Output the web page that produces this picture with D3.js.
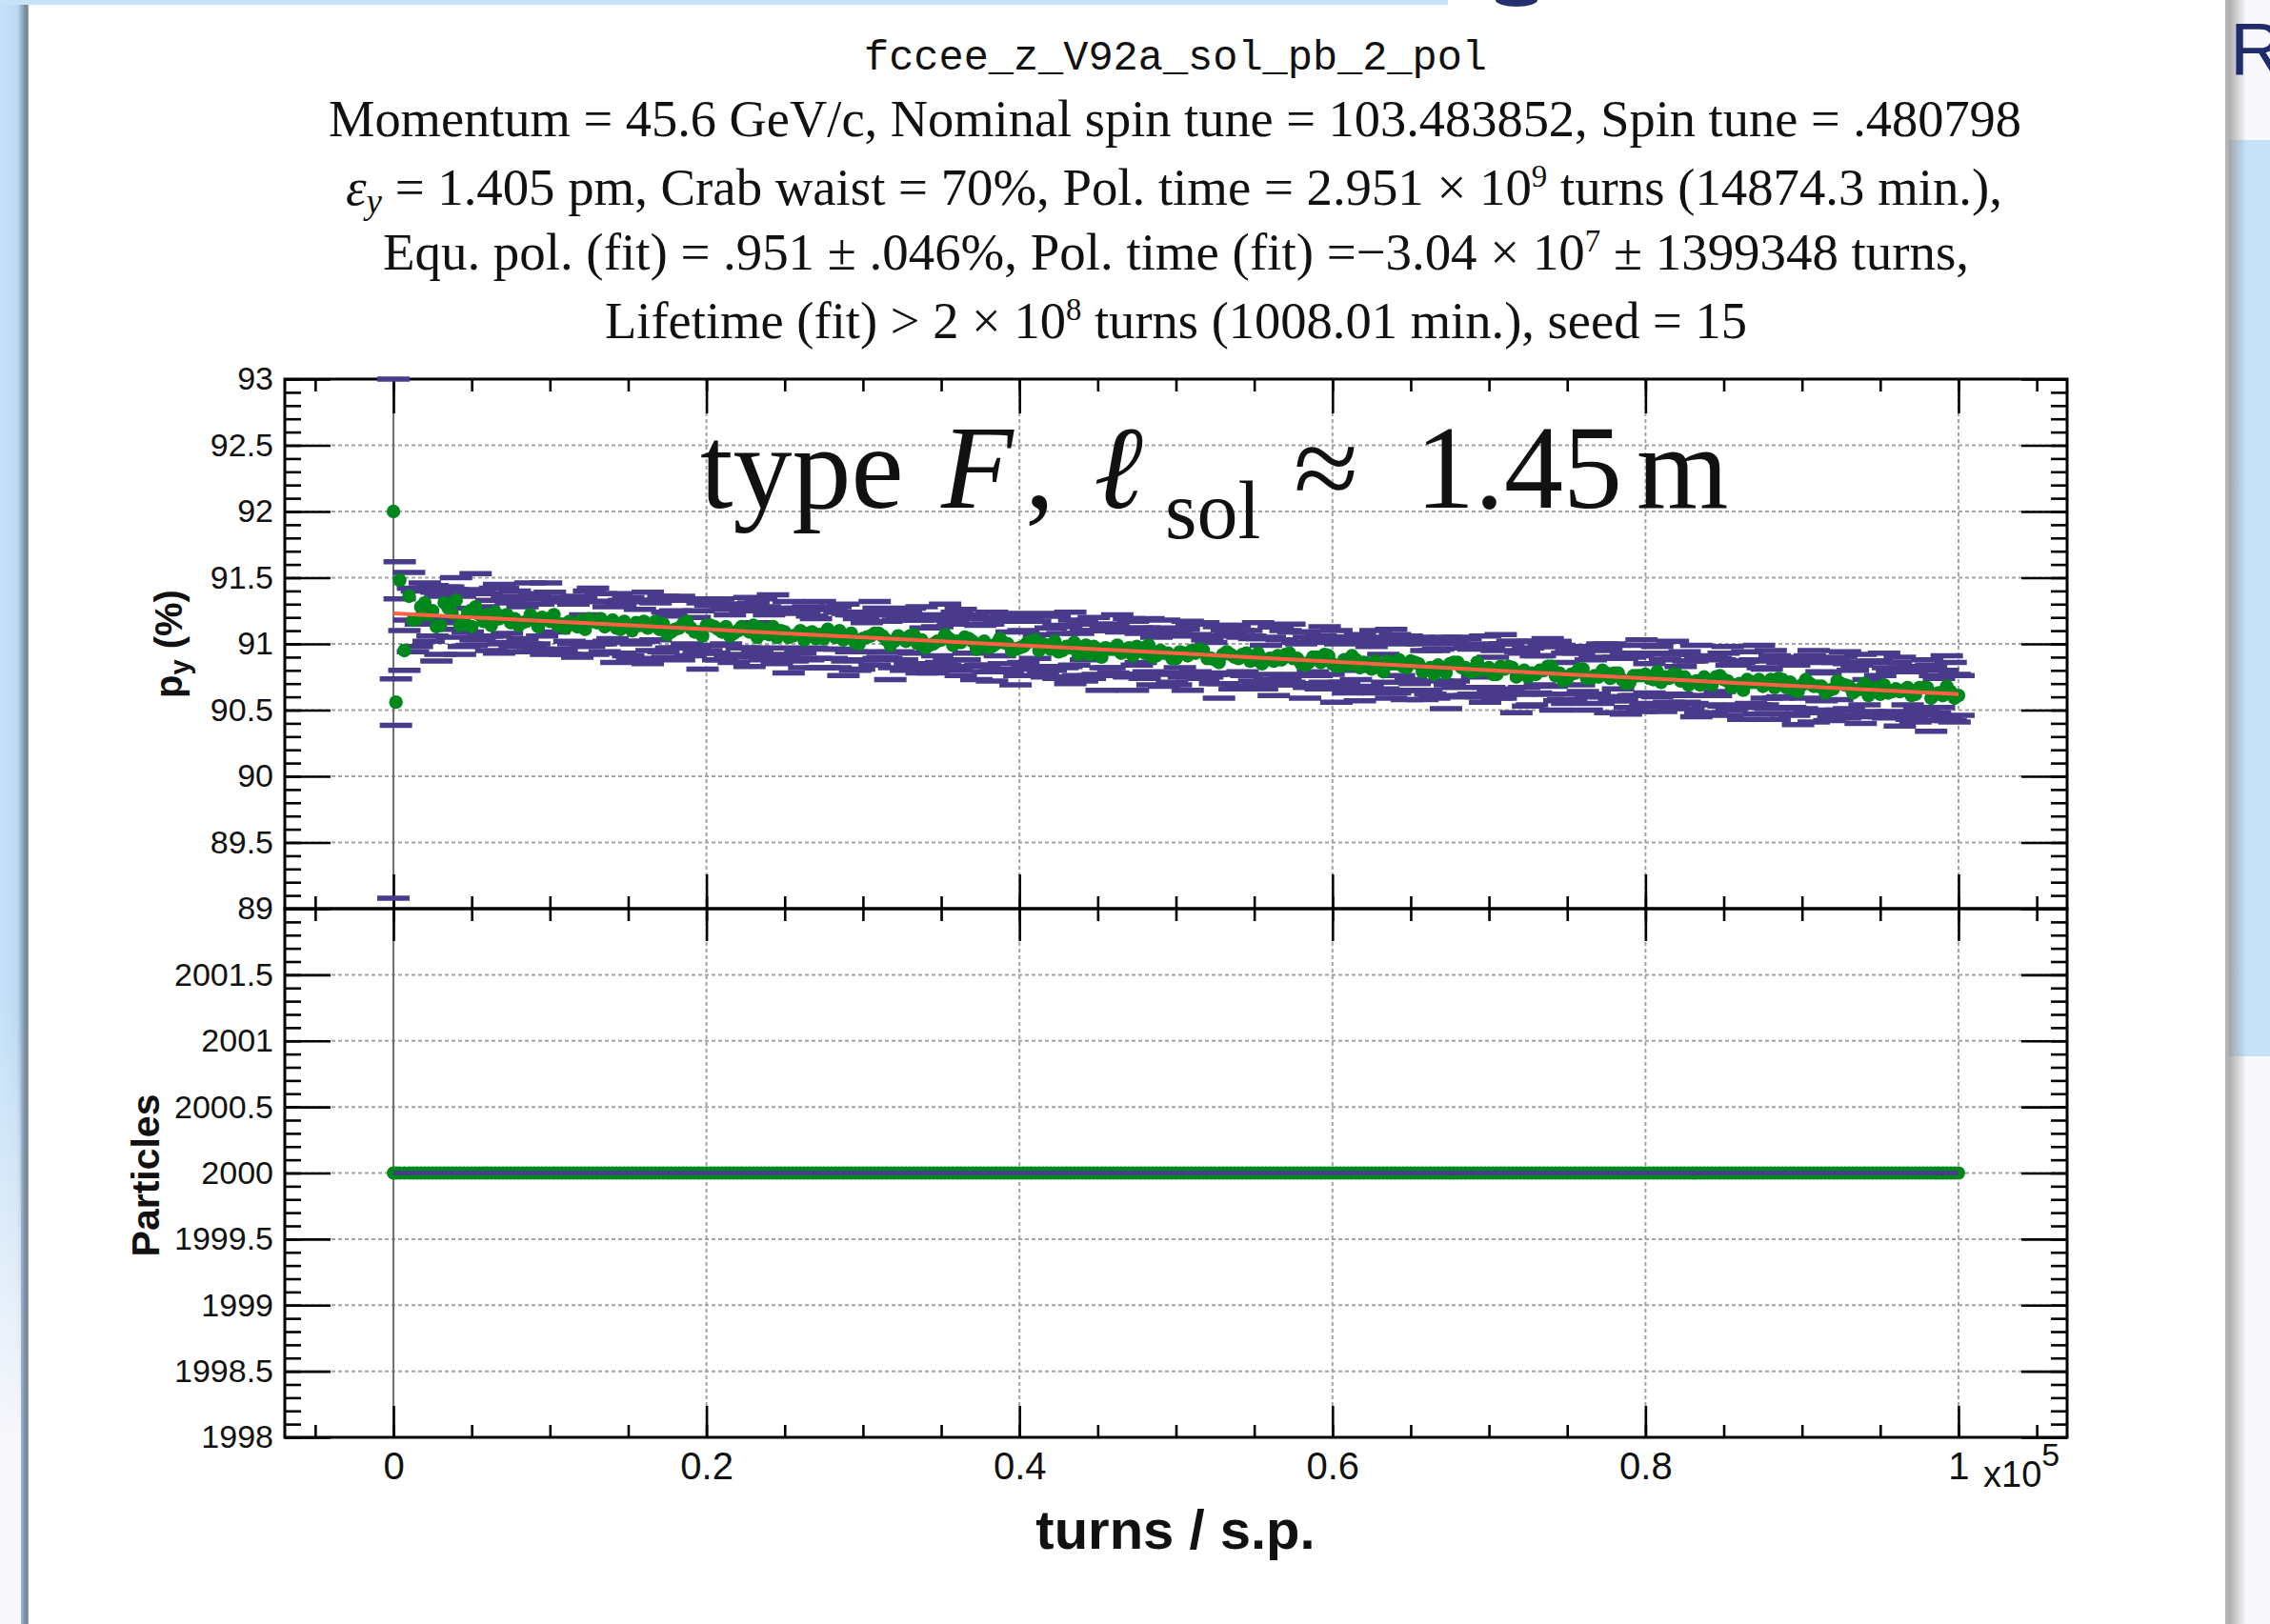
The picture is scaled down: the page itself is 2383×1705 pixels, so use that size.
<!DOCTYPE html>
<html>
<head>
<meta charset="utf-8">
<script src="https://cdn.jsdelivr.net/npm/d3@7"></script>
<style>
body { margin: 0; background: #fff; }
svg { display: block; }
</style>
</head>
<body>
<svg id="chart" width="2383" height="1705"></svg>
<script>
// ---- data ----
// polarisation samples: set A every 500 turns from 1000, set B every 500 turns from 1250
var startA = 1000, startB = 1250, sampleStep = 500;
var polA = [
  91.36, 91.19, 91.31, 91.25, 91.14, 91.27, 91.33, 91.18, 91.13, 91.22,
  91.22, 91.24, 91.21, 91.16, 91.14, 91.17, 91.19, 91.20, 91.17, 91.14,
  91.12, 91.15, 91.18, 91.19, 91.16, 91.13, 91.18, 91.11, 91.13, 91.16,
  91.17, 91.14, 91.11, 91.07, 91.11, 91.15, 91.12, 91.09, 91.14, 91.13,
  91.09, 91.06, 91.10, 91.11, 91.14, 91.12, 91.07, 91.05, 91.09, 91.06,
  91.10, 91.08, 91.04, 91.04, 91.08, 91.10, 91.05, 91.01, 91.04, 91.06,
  91.08, 91.03, 91.02, 91.04, 91.06, 91.00, 90.97, 91.00, 91.03, 91.04,
  91.02, 91.05, 91.02, 90.99, 90.97, 91.00, 91.01, 90.95, 90.97, 91.01,
  91.03, 91.00, 90.96, 90.94, 90.98, 91.01, 90.94, 90.92, 90.96, 90.97,
  90.96, 90.93, 90.97, 90.98, 90.93, 90.90, 90.95, 90.93, 90.89, 90.93,
  90.95, 90.96, 90.89, 90.88, 90.92, 90.92, 90.89, 90.93, 90.88, 90.85,
  90.89, 90.91, 90.92, 90.89, 90.85, 90.86, 90.90, 90.92, 90.85, 90.83,
  90.84, 90.88, 90.86, 90.81, 90.83, 90.87, 90.85, 90.83, 90.87, 90.85,
  90.80, 90.77, 90.82, 90.85, 90.86, 90.82, 90.79, 90.80, 90.82, 90.77,
  90.81, 90.82, 90.78, 90.75, 90.77, 90.80, 90.83, 90.78, 90.74, 90.78,
  90.81, 90.74, 90.75, 90.78, 90.78, 90.73, 90.71, 90.76, 90.77, 90.73,
  90.71, 90.74, 90.77, 90.75, 90.71, 90.69, 90.72, 90.75, 90.73, 90.67,
  90.70, 90.73, 90.71, 90.68, 90.73, 90.74, 90.67, 90.65, 90.69, 90.70,
  90.68, 90.63, 90.66, 90.70, 90.68, 90.65, 90.70, 90.66, 90.62, 90.63,
  90.66, 90.65, 90.61, 90.67, 90.67, 90.62, 90.61, 90.64, 90.61
];
var errA = [
  .18, .21, .15, .19, .22, .16, .17, .20, .14, .19,
  .16, .18, .21, .15, .20, .17, .19, .14, .22, .18,
  .20, .15, .17, .21, .16, .19, .14, .18, .22, .16,
  .15, .19, .22, .17, .14, .18, .21, .16, .19, .20,
  .21, .16, .18, .14, .17, .22, .15, .20, .18, .19,
  .17, .20, .15, .22, .19, .14, .18, .21, .16, .18,
  .19, .14, .20, .16, .21, .18, .15, .22, .17, .16,
  .22, .17, .19, .15, .18, .20, .16, .14, .21, .19,
  .14, .21, .16, .20, .15, .17, .22, .18, .19, .15,
  .18, .16, .22, .14, .19, .21, .17, .15, .20, .18,
  .20, .19, .14, .18, .22, .15, .21, .17, .16, .19,
  .16, .22, .18, .20, .15, .19, .14, .21, .18, .17,
  .21, .15, .19, .17, .20, .16, .22, .18, .14, .20,
  .15, .18, .21, .16, .19, .22, .17, .20, .15, .18,
  .19, .20, .16, .22, .14, .18, .15, .21, .19, .16,
  .17, .14, .20, .18, .21, .16, .19, .15, .22, .20,
  .22, .18, .15, .19, .16, .21, .18, .14, .20, .17,
  .16, .21, .17, .14, .22, .15, .20, .19, .18, .21,
  .18, .15, .22, .20, .17, .19, .16, .21, .14, .19,
  .20, .17, .18, .16, .21, .14, .19, .22, .15
];
var polB = [
  91.18, 91.28, 91.22, 91.13, 91.31, 91.23, 91.14, 91.24, 91.28, 91.17,
  91.14, 91.19, 91.22, 91.19, 91.16, 91.22, 91.13, 91.19, 91.22, 91.15,
  91.17, 91.13, 91.11, 91.17, 91.19, 91.15, 91.12, 91.17, 91.10, 91.14,
  91.12, 91.17, 91.15, 91.09, 91.12, 91.17, 91.09, 91.06, 91.14, 91.11,
  91.13, 91.08, 91.13, 91.09, 91.05, 91.08, 91.13, 91.10, 91.05, 91.07,
  91.03, 91.09, 91.07, 91.11, 91.05, 91.03, 91.08, 91.00, 91.05, 91.08,
  91.06, 90.99, 91.06, 91.02, 91.07, 91.03, 90.99, 91.02, 91.07, 90.99,
  91.01, 91.04, 90.96, 91.02, 90.98, 91.04, 91.00, 90.96, 90.98, 91.02,
  90.95, 90.99, 91.02, 90.95, 90.97, 90.92, 90.99, 90.98, 90.90, 90.96,
  90.99, 90.94, 90.91, 90.97, 90.99, 90.91, 90.93, 90.89, 90.94, 90.91,
  90.93, 90.95, 90.89, 90.86, 90.94, 90.90, 90.92, 90.87, 90.93, 90.88,
  90.87, 90.88, 90.93, 90.89, 90.84, 90.90, 90.86, 90.91, 90.83, 90.88,
  90.91, 90.82, 90.85, 90.87, 90.79, 90.85, 90.88, 90.82, 90.86, 90.79,
  90.82, 90.84, 90.78, 90.86, 90.82, 90.79, 90.86, 90.81, 90.77, 90.83,
  90.83, 90.75, 90.80, 90.78, 90.80, 90.83, 90.76, 90.72, 90.77, 90.81,
  90.74, 90.76, 90.80, 90.74, 90.78, 90.70, 90.76, 90.76, 90.74, 90.79,
  90.75, 90.77, 90.72, 90.69, 90.72, 90.75, 90.69, 90.76, 90.72, 90.69,
  90.65, 90.71, 90.73, 90.70, 90.67, 90.73, 90.71, 90.64, 90.73, 90.68,
  90.68, 90.65, 90.72, 90.69, 90.63, 90.66, 90.61, 90.67, 90.69, 90.64,
  90.64, 90.67, 90.62, 90.67, 90.59, 90.63, 90.68, 90.59
];
var errB = [
  .24, .13, .20, .26, .12, .18, .22, .15, .25, .11,
  .19, .26, .14, .21, .12, .24, .17, .27, .13, .20,
  .15, .23, .11, .25, .19, .13, .26, .16, .22, .12,
  .27, .14, .21, .12, .24, .17, .11, .25, .15, .23,
  .13, .22, .16, .26, .11, .20, .24, .13, .27, .18,
  .21, .12, .25, .15, .23, .27, .14, .19, .11, .24,
  .16, .26, .12, .22, .14, .25, .19, .11, .23, .17,
  .25, .11, .23, .18, .26, .13, .21, .27, .12, .20,
  .12, .24, .19, .13, .27, .16, .11, .22, .25, .14,
  .23, .17, .26, .11, .20, .14, .25, .18, .12, .26,
  .14, .21, .12, .27, .16, .24, .13, .19, .23, .11,
  .26, .15, .22, .12, .25, .11, .20, .14, .27, .17,
  .11, .25, .17, .23, .13, .26, .12, .24, .16, .21,
  .20, .12, .27, .14, .22, .18, .11, .25, .13, .24,
  .17, .27, .13, .24, .11, .21, .26, .14, .20, .12,
  .24, .14, .20, .26, .12, .23, .15, .27, .11, .19,
  .13, .25, .11, .18, .27, .14, .22, .12, .26, .16,
  .22, .16, .26, .11, .24, .13, .19, .25, .14, .27,
  .11, .23, .14, .25, .17, .26, .12, .20, .24, .15,
  .26, .13, .21, .16, .25, .11, .23, .18
];
// first few samples before the regular grid
var earlyTurns = [0, 160, 400, 700];
var earlyPol = [92.0, 90.56, 91.48, 90.95];
var earlyErr = [2.92, 0.175, 0.14, 0.15];

// fitted curve
var fitTurns = [0, 25000, 50000, 75000, 100000];
var fitPol = [91.23, 91.08, 90.93, 90.77, 90.62];

// particle count: every sample reads 2000
var particleLevel = 2000;

// axis ticks
var xMajor = [0, 20000, 40000, 60000, 80000, 100000];
var polTicks = [89, 89.5, 90, 90.5, 91, 91.5, 92, 92.5, 93];
var partTicks = [1998, 1998.5, 1999, 1999.5, 2000, 2000.5, 2001, 2001.5, 2002];

// ---- layout ----
var W = 2383, H = 1705;
var left = 299, right = 2170, top1 = 398, mid = 954, bot = 1509;
var green = "#00881c", purple = "#4a3a8c", fitColor = "#ff6242", gridColor = "#a3a3a3";

var svg = d3.select("#chart");
var defs = svg.append("defs");

// ---- page decoration (slide edges) ----
var lg = defs.append("linearGradient").attr("id", "leftEdge");
lg.append("stop").attr("offset", "0").attr("stop-color", "#c3e2f9");
lg.append("stop").attr("offset", "0.6").attr("stop-color", "#bddaf2");
lg.append("stop").attr("offset", "0.82").attr("stop-color", "#8aa0b8");
lg.append("stop").attr("offset", "0.93").attr("stop-color", "#6f8398");
lg.append("stop").attr("offset", "1").attr("stop-color", "#a8a8a8");
svg.append("rect").attr("x", 0).attr("y", 0).attr("width", 30).attr("height", H).attr("fill", "url(#leftEdge)");
var lf = defs.append("linearGradient").attr("id", "leftFade").attr("x1", 0).attr("x2", 0).attr("y1", 0).attr("y2", 1);
lf.append("stop").attr("offset", "0").attr("stop-color", "#f7f7fc").attr("stop-opacity", 0);
lf.append("stop").attr("offset", "0.7").attr("stop-color", "#f7f7fc").attr("stop-opacity", 1);
lf.append("stop").attr("offset", "1").attr("stop-color", "#f7f7fc").attr("stop-opacity", 1);
svg.append("rect").attr("x", 0).attr("y", 1050).attr("width", 22).attr("height", 655).attr("fill", "url(#leftFade)");
svg.append("rect").attr("x", 0).attr("y", 0).attr("width", 1520).attr("height", 5).attr("fill", "#c6e3f8");
svg.append("ellipse").attr("cx", 1592).attr("cy", 0).attr("rx", 22).attr("ry", 7).attr("fill", "#22306e");

svg.append("rect").attr("x", 2337).attr("y", 0).attr("width", 46).attr("height", H).attr("fill", "#f8f8fc");
svg.append("rect").attr("x", 2340).attr("y", 147).attr("width", 43).attr("height", 962).attr("fill", "#c6e2f8");
var rg = defs.append("linearGradient").attr("id", "rightShade");
rg.append("stop").attr("offset", "0").attr("stop-color", "#8c8c8c").attr("stop-opacity", 0.7);
rg.append("stop").attr("offset", "1").attr("stop-color", "#8c8c8c").attr("stop-opacity", 0);
svg.append("rect").attr("x", 2340).attr("y", 0).attr("width", 18).attr("height", H).attr("fill", "url(#rightShade)");
svg.append("rect").attr("x", 2336).attr("y", 0).attr("width", 4).attr("height", H).attr("fill", "#b4b4b4");
// slide letter partly outside the window, as in the screenshot
svg.append("text").attr("x", 2341).attr("y", 78).attr("font-family", "Liberation Sans, Arial, sans-serif")
  .attr("font-size", 78).attr("fill", "#1f2b6b").text("R");

// ---- scales ----
var x = d3.scaleLinear().domain([-6940, 106940]).range([left, right]);
var yPol = d3.scaleLinear().domain([89, 93]).range([mid, top1]);
var yPart = d3.scaleLinear().domain([1998, 2002]).range([bot, mid]);

// ---- grid ----
function grid(yScale, yVals, y0, y1) {
  var g = svg.append("g");
  g.selectAll(".hg").data(yVals.slice(1, -1)).enter().append("line")
    .attr("x1", left).attr("x2", right)
    .attr("y1", function(d) { return yScale(d); }).attr("y2", function(d) { return yScale(d); })
    .attr("stroke", gridColor).attr("stroke-width", 2).attr("stroke-dasharray", "4,3");
  g.selectAll(".vg").data(xMajor.slice(1)).enter().append("line")
    .attr("x1", function(d) { return x(d); }).attr("x2", function(d) { return x(d); })
    .attr("y1", y0).attr("y2", y1)
    .attr("stroke", gridColor).attr("stroke-width", 2).attr("stroke-dasharray", "4,3");
  g.append("line").attr("x1", x(0)).attr("x2", x(0)).attr("y1", y0).attr("y2", y1)
    .attr("stroke", "#707070").attr("stroke-width", 2);
}
grid(yPol, polTicks, top1, mid);
grid(yPart, partTicks, mid, bot);

// ---- axes ----
var xMinor = d3.range(-5000, 105001, 5000);
var polMinor = d3.range(89, 93.001, 0.1);
var partMinor = d3.range(1998, 2002.001, 0.1);

function axis(gen, tx, ty, vals, size, fmt, pad) {
  gen.tickValues(vals).tickSizeInner(size).tickSizeOuter(0).tickPadding(pad || 10)
    .tickFormat(fmt || function() { return ""; });
  var g = svg.append("g").attr("transform", "translate(" + tx + "," + ty + ")").call(gen);
  g.select(".domain").remove();
  g.selectAll(".tick line").attr("stroke", "#000").attr("stroke-width", 2.6);
  g.selectAll(".tick text").attr("fill", "#111").attr("font-family", "Liberation Sans, Arial, sans-serif");
  return g;
}

// top panel
axis(d3.axisLeft(yPol), left, 0, polMinor, -17);
axis(d3.axisLeft(yPol), left, 0, polTicks, -48, function(d) { return String(d); }, 12)
  .selectAll("text").attr("font-size", 34);
axis(d3.axisRight(yPol), right, 0, polMinor, -17);
axis(d3.axisRight(yPol), right, 0, polTicks, -48);
axis(d3.axisTop(x), 0, top1, xMinor, -13);
axis(d3.axisTop(x), 0, top1, xMajor, -36);
axis(d3.axisBottom(x), 0, mid, xMinor, -13);
axis(d3.axisBottom(x), 0, mid, xMajor, -36);
// bottom panel
axis(d3.axisLeft(yPart), left, 0, partMinor, -17);
axis(d3.axisLeft(yPart), left, 0, partTicks, -48, function(d) { return d === 2002 ? "" : String(d); }, 12)
  .selectAll("text").attr("font-size", 34);
axis(d3.axisRight(yPart), right, 0, partMinor, -17);
axis(d3.axisRight(yPart), right, 0, partTicks, -48);
axis(d3.axisTop(x), 0, mid, xMinor, -13);
axis(d3.axisTop(x), 0, mid, xMajor, -34);
axis(d3.axisBottom(x), 0, bot, xMinor, -13);
axis(d3.axisBottom(x), 0, bot, xMajor, -33, function(d) { return String(d / 1e5); }, 16)
  .selectAll("text").attr("font-size", 40);

// frames
[[top1, mid], [mid, bot]].forEach(function(p) {
  svg.append("rect").attr("x", left).attr("y", p[0]).attr("width", right - left).attr("height", p[1] - p[0])
    .attr("fill", "none").attr("stroke", "#000").attr("stroke-width", 3);
});

// ---- data ----
var points = earlyTurns.map(function(t, i) { return { t: t, p: earlyPol[i], e: earlyErr[i] }; })
  .concat(polA.map(function(p, i) { return { t: startA + i * sampleStep, p: p, e: errA[i] }; }))
  .concat(polB.map(function(p, i) { return { t: startB + i * sampleStep, p: p, e: errB[i] }; }));

var capHalf = 17;
var caps = [];
points.forEach(function(d) {
  caps.push({ t: d.t, v: Math.min(d.p + d.e, 93) });
  caps.push({ t: d.t, v: Math.max(d.p - d.e, 89) });
});
var pg = svg.append("g");
pg.selectAll("line.cap").data(caps).enter().append("line").attr("class", "cap")
  .attr("x1", function(d) { return x(d.t) - capHalf; }).attr("x2", function(d) { return x(d.t) + capHalf; })
  .attr("y1", function(d) { return yPol(d.v); }).attr("y2", function(d) { return yPol(d.v); })
  .attr("stroke", purple).attr("stroke-width", 5.5);
pg.selectAll("circle").data(points).enter().append("circle")
  .attr("cx", function(d) { return x(d.t); }).attr("cy", function(d) { return yPol(d.p); })
  .attr("r", 7.2).attr("fill", green);

var fitLine = d3.line().x(function(d, i) { return x(fitTurns[i]); }).y(function(d) { return yPol(d); });
svg.append("path").attr("d", fitLine(fitPol)).attr("fill", "none").attr("stroke", fitColor).attr("stroke-width", 4);

// particles panel
var partTurns = points.map(function(d) { return d.t; }).filter(function(t) { return t <= 100000; });
svg.append("g").selectAll("circle").data(partTurns).enter().append("circle")
  .attr("cx", function(d) { return x(d); }).attr("cy", yPart(particleLevel))
  .attr("r", 7).attr("fill", green);
svg.append("line").attr("x1", x(0)).attr("x2", x(d3.max(partTurns)))
  .attr("y1", yPart(particleLevel)).attr("y2", yPart(particleLevel))
  .attr("stroke", purple).attr("stroke-width", 4.5);

// ---- texts ----
var serif = "Liberation Serif, Times New Roman, serif";
var sans = "Liberation Sans, Arial, Helvetica, sans-serif";

svg.append("text").attr("x", 1234).attr("y", 73).attr("text-anchor", "middle")
  .attr("font-family", "Liberation Mono, DejaVu Sans Mono, monospace").attr("font-size", 44)
  .attr("textLength", 654).attr("lengthAdjust", "spacingAndGlyphs").attr("fill", "#111")
  .text("fccee_z_V92a_sol_pb_2_pol");

function titleLine(y, x0, len, parts) {
  var t = svg.append("text").attr("x", x0).attr("y", y).attr("font-family", serif).attr("font-size", 55)
    .attr("fill", "#111").attr("textLength", len).attr("lengthAdjust", "spacingAndGlyphs");
  parts.forEach(function(p) {
    var s = t.append("tspan").text(p.s);
    if (p.it) s.attr("font-style", "italic");
    if (p.fs) s.attr("font-size", p.fs);
    if (p.dy) s.attr("dy", p.dy);
  });
}
titleLine(143, 345, 1777, [{ s: "Momentum = 45.6 GeV/c, Nominal spin tune = 103.483852, Spin tune = .480798" }]);
titleLine(215, 363, 1739, [
  { s: "ε", it: true }, { s: "y", it: true, fs: 37, dy: 9 },
  { s: " = 1.405 pm, Crab waist = 70%, Pol. time = 2.951 × 10", dy: -9 },
  { s: "9", fs: 33, dy: -19 }, { s: " turns (14874.3 min.),", dy: 19 }
]);
titleLine(283, 402, 1665, [
  { s: "Equ. pol. (fit) = .951 ± .046%, Pol. time (fit) =−3.04 × 10" },
  { s: "7", fs: 33, dy: -19 }, { s: " ± 1399348 turns,", dy: 19 }
]);
titleLine(355, 635, 1199, [
  { s: "Lifetime (fit) > 2 × 10" }, { s: "8", fs: 33, dy: -19 },
  { s: " turns (1008.01 min.), seed = 15", dy: 19 }
]);

// in-plot label
var big = svg.append("text").attr("y", 533).attr("font-family", serif).attr("font-size", 124).attr("fill", "#111");
big.append("tspan").attr("x", 735).text("type");
big.append("tspan").attr("x", 988).attr("font-style", "italic").text("F");
big.append("tspan").attr("x", 1076).text(",");
big.append("tspan").attr("x", 1148).attr("font-style", "italic").text("ℓ");
big.append("tspan").attr("x", 1223).attr("dy", 32).attr("font-size", 86).text("sol");
big.append("tspan").attr("x", 1358).attr("dy", -32).text("≈");
big.append("tspan").attr("x", 1486).text("1.45");
big.append("tspan").attr("x", 1718).text("m");

// axis titles
svg.append("text").attr("x", 1234).attr("y", 1626).attr("text-anchor", "middle")
  .attr("font-family", sans).attr("font-weight", "bold").attr("font-size", 58).attr("fill", "#111")
  .text("turns / s.p.");
var xe = svg.append("text").attr("x", 2082).attr("y", 1561).attr("font-family", sans)
  .attr("font-size", 38).attr("fill", "#111");
xe.append("tspan").text("x10");
xe.append("tspan").attr("font-size", 34).attr("dy", -22).text("5");

var py = svg.append("text").attr("transform", "translate(191,676) rotate(-90)").attr("text-anchor", "middle")
  .attr("font-family", sans).attr("font-weight", "bold").attr("font-size", 40).attr("fill", "#111");
py.append("tspan").text("p");
py.append("tspan").attr("font-size", 29).attr("dy", 8).text("y");
py.append("tspan").attr("dy", -8).text(" (%)");
svg.append("text").attr("transform", "translate(167,1234) rotate(-90)").attr("text-anchor", "middle")
  .attr("font-family", sans).attr("font-weight", "bold").attr("font-size", 41).attr("fill", "#111")
  .text("Particles");
</script>
</body>
</html>
